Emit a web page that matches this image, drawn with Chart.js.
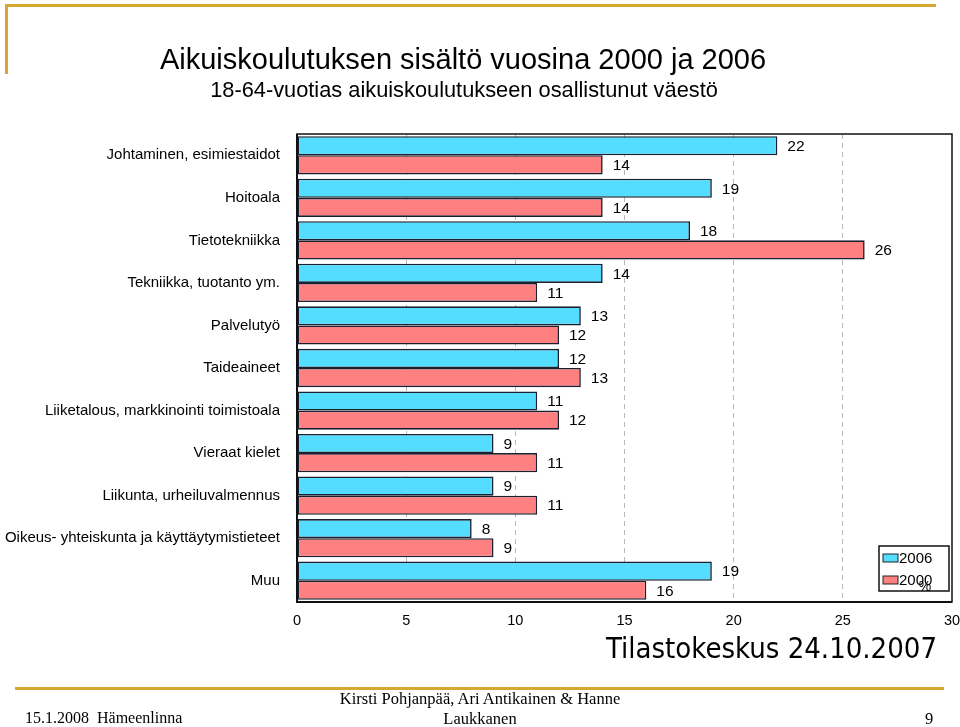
<!DOCTYPE html>
<html>
<head>
<meta charset="utf-8">
<script src="https://cdn.jsdelivr.net/npm/chart.js@4/dist/chart.umd.min.js"></script>
<style>
  html, body { margin:0; padding:0; background:#fff; }
  #wrap { position:relative; width:960px; height:727px; overflow:hidden; font-family:"Liberation Sans", Arial, sans-serif; }
  #chartBox { position:absolute; left:0; top:0; width:960px; height:727px; }
  .t { position:absolute; white-space:nowrap; color:#000; }
  .gold { position:absolute; background:#D6A62E; }
</style>
</head>
<body>
<div id="wrap">
  <div class="gold" style="left:5px; top:4px; width:931px; height:3px;"></div>
  <div class="gold" style="left:5px; top:4px; width:3px; height:70px;"></div>
  <div class="gold" style="left:15px; top:687px; width:929px; height:3px;"></div>
  <div id="chartBox"><canvas id="c" width="960" height="727"></canvas></div>
  <div class="t" style="left:463px; top:59px; transform:translate(-50%,-50%); font-size:29px;">Aikuiskoulutuksen sisältö vuosina 2000 ja 2006</div>
  <div class="t" style="left:464px; top:90px; transform:translate(-50%,-50%); font-size:21.8px;">18-64-vuotias aikuiskoulutukseen osallistunut väestö</div>
  <div class="t" style="left:925px; top:586px; transform:translate(-50%,-50%); font-size:14px;">%</div>
  <div class="t" style="left:937px; top:648px; transform:translate(-100%,-50%); font-size:29px; font-family:'DejaVu Sans Condensed','DejaVu Sans',sans-serif;">Tilastokeskus 24.10.2007</div>
  <div class="t" style="left:25px; top:718px; transform:translateY(-50%); font-size:16px; font-family:'Liberation Serif',serif;">15.1.2008&nbsp; Hämeenlinna</div>
  <div class="t" style="left:480px; top:699px; transform:translate(-50%,-50%); font-size:16.5px; font-family:'Liberation Serif',serif;">Kirsti Pohjanpää, Ari Antikainen &amp; Hanne</div>
  <div class="t" style="left:480px; top:719px; transform:translate(-50%,-50%); font-size:16.5px; font-family:'Liberation Serif',serif;">Laukkanen</div>
  <div class="t" style="left:929px; top:719px; transform:translate(-50%,-50%); font-size:16.5px; font-family:'Liberation Serif',serif;">9</div>
</div>
<script>
const categories = [
  "Johtaminen, esimiestaidot",
  "Hoitoala",
  "Tietotekniikka",
  "Tekniikka, tuotanto ym.",
  "Palvelutyö",
  "Taideaineet",
  "Liiketalous, markkinointi toimistoala",
  "Vieraat kielet",
  "Liikunta, urheiluvalmennus",
  "Oikeus- yhteiskunta ja käyttäytymistieteet",
  "Muu"
];
const values2006 = [22, 19, 18, 14, 13, 12, 11, 9, 9, 8, 19];
const values2000 = [14, 14, 26, 11, 12, 13, 12, 11, 11, 9, 16];
const seriesLabels = ["2006", "2000"];
const xTicks = [0, 5, 10, 15, 20, 25, 30];

const FONT = '"Liberation Sans", Arial, sans-serif';

const framePlugin = {
  id: 'frame',
  afterDraw(chart) {
    const {ctx, chartArea: a} = chart;
    ctx.save();
    ctx.strokeStyle = '#111';
    ctx.lineWidth = 1.5;
    ctx.strokeRect(a.left, a.top, a.right - a.left, a.bottom - a.top);
    ctx.lineWidth = 2;
    ctx.beginPath();
    ctx.moveTo(a.left, a.top); ctx.lineTo(a.left, a.bottom); ctx.lineTo(a.right, a.bottom);
    ctx.stroke();
    ctx.restore();
  }
};

const valueLabelPlugin = {
  id: 'valueLabels',
  afterDatasetsDraw(chart) {
    const {ctx} = chart;
    ctx.save();
    ctx.font = '15.5px ' + FONT;
    ctx.fillStyle = '#000';
    ctx.textAlign = 'left';
    ctx.textBaseline = 'middle';
    chart.data.datasets.forEach((ds, i) => {
      const meta = chart.getDatasetMeta(i);
      meta.data.forEach((el, j) => {
        ctx.fillText(String(ds.data[j]), el.x + 10, el.y + 1);
      });
    });
    ctx.restore();
  }
};

const legendPlugin = {
  id: 'boxLegend',
  afterDraw(chart) {
    const {ctx, chartArea: a} = chart;
    const w = 70, h = 45;
    const x = a.right - 3 - w, y = a.bottom - 11 - h;
    ctx.save();
    ctx.fillStyle = '#fff';
    ctx.fillRect(x, y, w, h);
    ctx.strokeStyle = '#111';
    ctx.lineWidth = 1.5;
    ctx.strokeRect(x, y, w, h);
    ctx.font = '15px ' + FONT;
    ctx.textBaseline = 'middle';
    ctx.textAlign = 'left';
    chart.data.datasets.forEach((ds, i) => {
      const cy = y + 12 + i * 22;
      ctx.fillStyle = ds.backgroundColor;
      ctx.fillRect(x + 4, cy - 4, 15, 8);
      ctx.lineWidth = 1;
      ctx.strokeStyle = '#222';
      ctx.strokeRect(x + 4, cy - 4, 15, 8);
      ctx.fillStyle = '#000';
      ctx.fillText(ds.label, x + 20, cy + 1);
    });
    ctx.restore();
  }
};

new Chart(document.getElementById('c'), {
  type: 'bar',
  data: {
    labels: categories,
    datasets: [
      { label: seriesLabels[0], data: values2006, backgroundColor: '#55DDFF', borderColor: '#1a2030', borderWidth: 1.6, borderSkipped: false },
      { label: seriesLabels[1], data: values2000, backgroundColor: '#FF8080', borderColor: '#1a2030', borderWidth: 1.6, borderSkipped: false }
    ]
  },
  options: {
    indexAxis: 'y',
    responsive: false,
    animation: false,
    devicePixelRatio: 1,
    categoryPercentage: 0.9,
    barPercentage: 1.0,
    layout: { padding: { left: 0, right: 8, top: 134, bottom: 95 } },
    plugins: { legend: { display: false }, title: { display: false }, tooltip: { enabled: false } },
    scales: {
      x: {
        min: 0, max: 30,
        afterBuildTicks(scale) { scale.ticks = xTicks.map(v => ({ value: v })); },
        afterFit(scale) { scale.height = 30; scale.paddingLeft = 0; scale.paddingRight = 0; },
        ticks: { color: '#000', font: { family: FONT, size: 14.5 }, padding: 10, maxRotation: 0 },
        grid: {
          drawTicks: false,
          lineWidth: 1,
          color: (ctx) => (ctx.tick && (ctx.tick.value === 0 || ctx.tick.value === 30)) ? 'rgba(0,0,0,0)' : '#b8b8b8'
        },
        border: { display: false, dash: [5, 4] }
      },
      y: {
        afterFit(scale) { scale.width = 297; scale.paddingTop = 0; scale.paddingBottom = 0; },
        ticks: { color: '#000', font: { family: FONT, size: 15 }, padding: 17 },
        grid: { display: false, drawTicks: false },
        border: { display: false }
      }
    }
  },
  plugins: [valueLabelPlugin, framePlugin, legendPlugin]
});
</script>
</body>
</html>
